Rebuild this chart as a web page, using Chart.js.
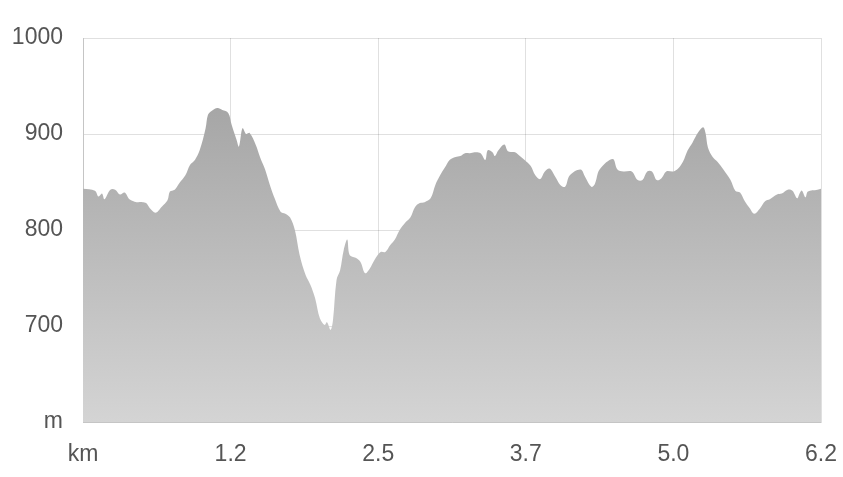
<!DOCTYPE html>
<html lang="en">
<head>
  <meta charset="utf-8">
  <title>Elevation profile</title>
  <script src="https://cdn.jsdelivr.net/npm/chart.js@4/dist/chart.umd.min.js"></script>
  <style>
    body { margin:0; background:#fff; }
    #wrap { width:843px; height:477px; }
  </style>
</head>
<body>
  <div id="wrap"><canvas id="profile"></canvas></div>
  <script>
    // distance along the route (km) and elevation (m)
    const distKm = [0, 0.10, 0.13, 0.16, 0.18, 0.23, 0.27, 0.31, 0.35, 0.39, 0.45, 0.50, 0.53, 0.56, 0.61, 0.66, 0.71, 0.73, 0.77, 0.81,
      0.86, 0.90, 0.94, 0.98, 1.03, 1.05, 1.08, 1.13, 1.17, 1.22, 1.25, 1.29, 1.31, 1.34, 1.37, 1.40, 1.45, 1.49, 1.53, 1.57,
      1.61, 1.66, 1.70, 1.74, 1.78, 1.82, 1.87, 1.91, 1.95, 1.99, 2.03, 2.05, 2.08, 2.10, 2.13, 2.16, 2.19, 2.22, 2.24, 2.29,
      2.33, 2.37, 2.41, 2.45, 2.50, 2.54, 2.58, 2.62, 2.66, 2.71, 2.75, 2.79, 2.83, 2.87, 2.92, 2.96, 3.00, 3.04, 3.08, 3.13,
      3.17, 3.21, 3.25, 3.29, 3.34, 3.38, 3.40, 3.44, 3.46, 3.49, 3.54, 3.57, 3.63, 3.67, 3.71, 3.76, 3.80, 3.84, 3.88, 3.92,
      3.97, 4.01, 4.05, 4.09, 4.18, 4.22, 4.27, 4.30, 4.34, 4.45, 4.49, 4.54, 4.61, 4.66, 4.70, 4.74, 4.78, 4.82, 4.86, 4.90,
      4.96, 5.00, 5.04, 5.08, 5.12, 5.17, 5.21, 5.23, 5.25, 5.29, 5.33, 5.38, 5.44, 5.48, 5.52, 5.56, 5.60, 5.64, 5.69, 5.73,
      5.77, 5.83, 5.87, 5.92, 5.96, 6.00, 6.02, 6.04, 6.07, 6.09, 6.17, 6.20];
    const elevM = [843, 841, 835, 838, 832, 842, 842, 837, 839, 832, 829, 829, 828, 823, 818, 824, 831, 840, 842, 849,
      857, 868, 873, 883, 906, 920, 924, 927, 925, 922, 909, 894, 887, 906, 900, 901, 889, 875, 863, 847,
      833, 819, 817, 813, 800, 774, 753, 743, 729, 708, 701, 704, 696, 706, 748, 758, 779, 790, 774, 771,
      767, 755, 760, 769, 777, 777, 784, 790, 800, 808, 813, 824, 828, 829, 833, 847, 857, 865, 873, 876,
      877, 880, 880, 881, 880, 873, 883, 881, 877, 883, 889, 882, 881, 877, 873, 867, 857, 853, 861, 864,
      855, 847, 845, 857, 863, 855, 845, 848, 863, 874, 863, 861, 861, 852, 852, 861, 861, 852, 854, 861,
      861, 864, 871, 883, 891, 902, 907, 901, 886, 876, 871, 863, 852, 841, 839, 830, 823, 817, 823, 830,
      832, 837, 838, 842, 841, 833, 838, 841, 834, 840, 842, 843];

    const xTicks = [0, 1.24, 2.48, 3.72, 4.96, 6.2];
    const yTicks = [600, 700, 800, 900, 1000];
    const xUnit = 'km', yUnit = 'm';

    const points = distKm.map((d, i) => ({ x: d, y: elevM[i] }));

    function fillGradient(ctx) {
      const area = ctx.chart.chartArea;
      if (!area) return '#b0b0b0';
      const g = ctx.chart.ctx.createLinearGradient(0, area.top, 0, area.bottom);
      g.addColorStop(0, '#9c9c9c');
      g.addColorStop(1, '#d4d4d4');
      return g;
    }

    const tickFont = { family: "'Liberation Sans', Arial, sans-serif", size: 23 };
    const gridColor = 'rgba(0,0,0,0.12)';

    new Chart(document.getElementById('profile'), {
      type: 'line',
      data: {
        datasets: [{
          data: points,
          fill: 'start',
          backgroundColor: fillGradient,
          borderWidth: 0,
          borderColor: 'rgba(0,0,0,0)',
          pointRadius: 0,
          tension: 0.35
        }]
      },
      options: {
        responsive: true,
        maintainAspectRatio: false,
        animation: false,
        layout: { padding: { top: 38, right: 22, left: 0, bottom: 0 } },
        plugins: { legend: { display: false }, tooltip: { enabled: false } },
        scales: {
          x: {
            type: 'linear', min: 0, max: 6.2, z: 1,
            afterBuildTicks: s => { s.ticks = xTicks.map(v => ({ value: v })); },
            afterFit: s => { s.height = 55; s.paddingLeft = 0; s.paddingRight = 0; },
            grid: { color: gridColor, drawTicks: false },
            border: { color: gridColor },
            ticks: {
              color: '#555', font: tickFont, padding: 19, maxRotation: 0, autoSkip: false,
              callback: v => v === 0 ? xUnit : v.toFixed(1)
            }
          },
          y: {
            min: 600, max: 1000, z: 1,
            afterBuildTicks: s => { s.ticks = yTicks.map(v => ({ value: v })); },
            afterFit: s => { s.width = 83; s.paddingTop = 0; s.paddingBottom = 0; },
            grid: { color: gridColor, drawTicks: false },
            border: { color: gridColor },
            ticks: {
              color: '#555', font: tickFont, padding: 20,
              callback: v => v === 600 ? yUnit : String(v)
            }
          }
        }
      }
    });
  </script>
</body>
</html>
